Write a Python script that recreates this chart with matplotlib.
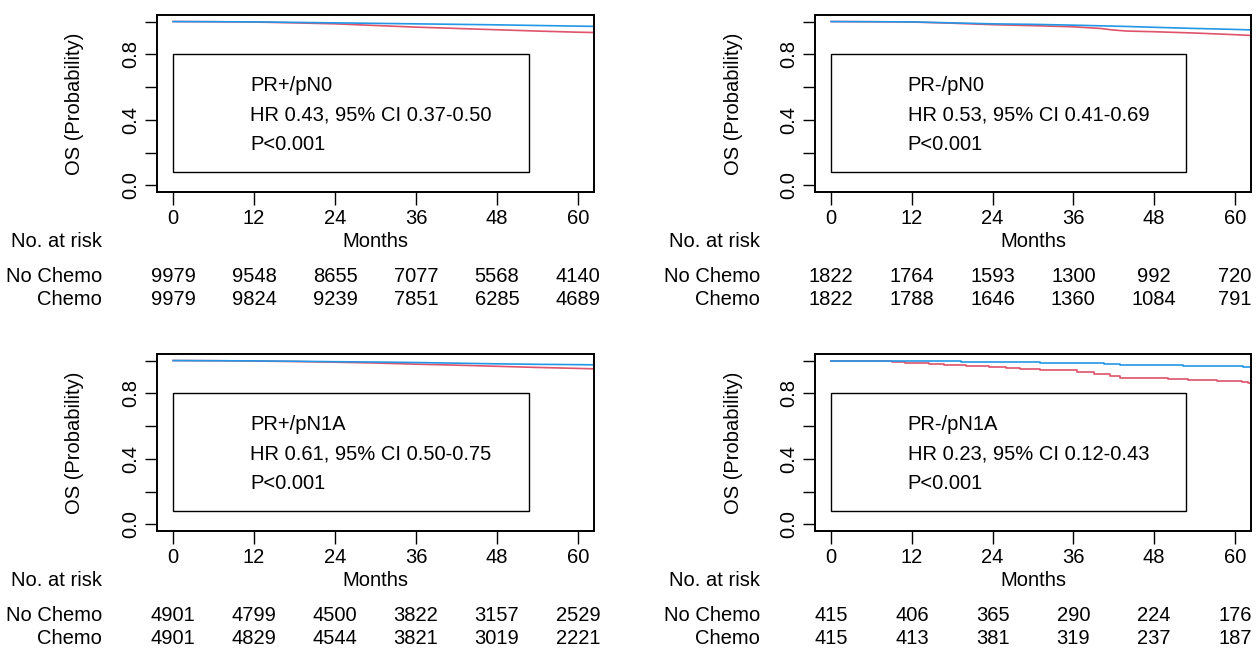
"""Kaplan-Meier OS panels with numbers at risk (PR / pN subgroups)."""

import matplotlib

matplotlib.use("Agg")

import matplotlib.pyplot as plt
import matplotlib.transforms as mtransforms
from matplotlib.patches import Rectangle

FIG_W_PX: int = 1256
FIG_H_PX: int = 648
COLOR_CHEMO: str = "#2297E6"
COLOR_NO_CHEMO: str = "#DF536B"
FONT_SIZE: float = 14.5

plt.rcParams["font.family"] = ["Liberation Sans", "DejaVu Sans"]

# ---- data -----------------------------------------------------------------
risk_times = [0, 12, 24, 36, 48, 60]
row_labels = ["No Chemo", "Chemo"]

panel_titles = ["PR+/pN0", "PR-/pN0", "PR+/pN1A", "PR-/pN1A"]
panel_hr = [
    "HR 0.43, 95% CI 0.37-0.50",
    "HR 0.53, 95% CI 0.41-0.69",
    "HR 0.61, 95% CI 0.50-0.75",
    "HR 0.23, 95% CI 0.12-0.43",
]
panel_p = ["P<0.001", "P<0.001", "P<0.001", "P<0.001"]

# PR+/pN0
t_pr_pos_n0 = [0, 6, 12, 18, 24, 30, 36, 42, 48, 54, 60, 64]
s_nochemo_pr_pos_n0 = [1.0, 0.999, 0.997, 0.992, 0.986, 0.976, 0.966, 0.958, 0.950, 0.942, 0.935, 0.932]
s_chemo_pr_pos_n0 = [1.0, 0.999, 0.998, 0.995, 0.992, 0.989, 0.986, 0.983, 0.980, 0.976, 0.972, 0.970]
risk_nochemo_pr_pos_n0 = [9979, 9548, 8655, 7077, 5568, 4140]
risk_chemo_pr_pos_n0 = [9979, 9824, 9239, 7851, 6285, 4689]

# PR-/pN0
t_pr_neg_n0 = [0, 6, 12, 18, 24, 30, 36, 40, 42, 44, 48, 54, 60, 64]
s_nochemo_pr_neg_n0 = [1.0, 0.999, 0.997, 0.990, 0.981, 0.975, 0.968, 0.958, 0.948, 0.942, 0.938, 0.930, 0.920, 0.912]
s_chemo_pr_neg_n0 = [1.0, 0.999, 0.998, 0.992, 0.986, 0.983, 0.978, 0.974, 0.972, 0.970, 0.965, 0.958, 0.952, 0.947]
risk_nochemo_pr_neg_n0 = [1822, 1764, 1593, 1300, 992, 720]
risk_chemo_pr_neg_n0 = [1822, 1788, 1646, 1360, 1084, 791]

# PR+/pN1A
t_pr_pos_n1a = [0, 6, 12, 18, 24, 30, 36, 42, 48, 54, 60, 64]
s_nochemo_pr_pos_n1a = [1.0, 0.999, 0.997, 0.994, 0.990, 0.985, 0.978, 0.972, 0.965, 0.958, 0.952, 0.948]
s_chemo_pr_pos_n1a = [1.0, 0.999, 0.998, 0.996, 0.993, 0.991, 0.988, 0.984, 0.980, 0.977, 0.975, 0.973]
risk_nochemo_pr_pos_n1a = [4901, 4799, 4500, 3822, 3157, 2529]
risk_chemo_pr_pos_n1a = [4901, 4829, 4544, 3821, 3019, 2221]

# PR-/pN1A
t_nochemo_pr_neg_n1a = [0, 3.7, 9, 11, 14.5, 16.7, 18, 20, 23.5, 26, 28, 31, 34, 36.5, 39, 41.5, 43, 47, 50, 53, 57.4, 61, 62, 64]
s_nochemo_pr_neg_n1a = [1.0, 0.996, 0.992, 0.986, 0.980, 0.974, 0.970, 0.965, 0.959, 0.953, 0.950, 0.945, 0.941, 0.931,
                        0.920, 0.906, 0.896, 0.892, 0.886, 0.883, 0.876, 0.872, 0.864, 0.864]
t_chemo_pr_neg_n1a = [0, 9, 16, 19.3, 24, 31, 40.5, 43, 48.6, 52.3, 61.2, 61.8, 64]
s_chemo_pr_neg_n1a = [1.0, 0.999, 0.996, 0.992, 0.990, 0.986, 0.982, 0.975, 0.971, 0.967, 0.963, 0.959, 0.959]
risk_nochemo_pr_neg_n1a = [415, 406, 365, 290, 224, 176]
risk_chemo_pr_neg_n1a = [415, 413, 381, 319, 237, 187]

panels = [
    (t_pr_pos_n0, s_nochemo_pr_pos_n0, t_pr_pos_n0, s_chemo_pr_pos_n0,
     risk_nochemo_pr_pos_n0, risk_chemo_pr_pos_n0),
    (t_pr_neg_n0, s_nochemo_pr_neg_n0, t_pr_neg_n0, s_chemo_pr_neg_n0,
     risk_nochemo_pr_neg_n0, risk_chemo_pr_neg_n0),
    (t_pr_pos_n1a, s_nochemo_pr_pos_n1a, t_pr_pos_n1a, s_chemo_pr_pos_n1a,
     risk_nochemo_pr_pos_n1a, risk_chemo_pr_pos_n1a),
    (t_nochemo_pr_neg_n1a, s_nochemo_pr_neg_n1a, t_chemo_pr_neg_n1a, s_chemo_pr_neg_n1a,
     risk_nochemo_pr_neg_n1a, risk_chemo_pr_neg_n1a),
]
# small cohort shows visible KM steps, the big ones read as smooth lines
panel_steps = [False, False, False, True]

# axes boxes in pixels: (left, top, right, bottom)
panel_boxes = [
    (157, 15, 594, 192),
    (815, 15, 1251, 192),
    (157, 354, 594, 531),
    (815, 354, 1251, 531),
]


def _rect(box):
    left, top, right, bottom = box
    return [left / FIG_W_PX, 1 - bottom / FIG_H_PX,
            (right - left) / FIG_W_PX, (bottom - top) / FIG_H_PX]


def draw_panel(fig, box, curves, steps, title, hr_text, p_text):
    t_nc, s_nc, t_c, s_c, risk_nc, risk_c = curves
    ax = fig.add_axes(_rect(box))
    style = "steps-post" if steps else "default"
    ax.plot(t_nc, s_nc, drawstyle=style, color=COLOR_NO_CHEMO, lw=1.2)
    ax.plot(t_c, s_c, drawstyle=style, color=COLOR_CHEMO, lw=1.2)
    ax.set_xlim(-2.4, 62.4)
    ax.set_ylim(-0.04, 1.04)

    ax.set_xticks(risk_times)
    ax.set_xticklabels([str(t) for t in risk_times], fontsize=FONT_SIZE)
    ax.set_yticks([0.0, 0.2, 0.4, 0.6, 0.8, 1.0])
    ax.set_yticklabels(["0.0", "", "0.4", "", "0.8", ""], fontsize=FONT_SIZE,
                       rotation=90, va="center")
    ax.tick_params(direction="out", length=9, width=1.0, colors="black", pad=3)
    for spine in ax.spines.values():
        spine.set_linewidth(1.4)

    ax.text(-0.188, 0.5, "OS (Probability)", transform=ax.transAxes,
            rotation=90, ha="center", va="center", fontsize=FONT_SIZE)

    ax.add_patch(Rectangle((0, 0.08), 52.7, 0.72, fill=False, lw=1.0, ec="black"))
    ax.text(11.4, 0.612, title, ha="left", va="center", fontsize=FONT_SIZE)
    ax.text(11.4, 0.43, hr_text, ha="left", va="center", fontsize=FONT_SIZE)
    ax.text(11.4, 0.248, p_text, ha="left", va="center", fontsize=FONT_SIZE)

    blend = mtransforms.blended_transform_factory(ax.transData, ax.transAxes)
    ax.text(30, -0.282, "Months", transform=blend, ha="center", va="center",
            fontsize=FONT_SIZE, clip_on=False)
    ax.text(-0.126, -0.282, "No. at risk", transform=ax.transAxes, ha="right",
            va="center", fontsize=FONT_SIZE)
    for row_y, label, counts in zip([-0.48, -0.607], row_labels, [risk_nc, risk_c]):
        ax.text(-0.126, row_y, label, transform=ax.transAxes, ha="right",
                va="center", fontsize=FONT_SIZE)
        for t, n in zip(risk_times, counts):
            ax.text(t, row_y, str(n), transform=blend, ha="center", va="center",
                    fontsize=FONT_SIZE, clip_on=False)
    return ax


fig = plt.figure(figsize=(FIG_W_PX / 100, FIG_H_PX / 100), dpi=100)
for box, curves, steps, title, hr_text, p_text in zip(
    panel_boxes, panels, panel_steps, panel_titles, panel_hr, panel_p
):
    draw_panel(fig, box, curves, steps, title, hr_text, p_text)

fig.savefig("out.png", dpi=100, facecolor="white")
